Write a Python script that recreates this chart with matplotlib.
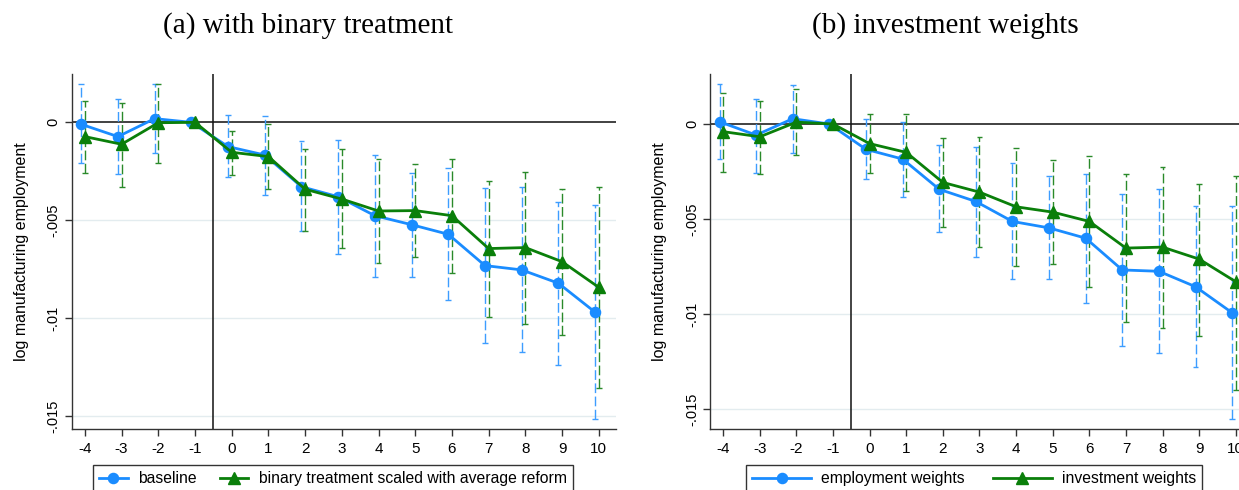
import matplotlib
matplotlib.use('Agg')
import matplotlib.pyplot as plt
import numpy as np

plt.rcParams['font.family'] = ['Liberation Sans', 'DejaVu Sans']

event_time = [-4, -3, -2, -1, 0, 1, 2, 3, 4, 5, 6, 7, 8, 9, 10]

# panel (a)
a_base = [-0.0001, -0.00073, 0.00019, 0.0, -0.00124, -0.00167, -0.00329, -0.0038,
          -0.00477, -0.00523, -0.00572, -0.00732, -0.00754, -0.00822, -0.0097]
a_base_hi = [0.00194, 0.00117, 0.00196, None, 0.00037, 0.00032, -0.00095, -0.00092,
             -0.00165, -0.00257, -0.00232, -0.00337, -0.0033, -0.00405, -0.00424]
a_base_lo = [-0.00209, -0.00266, -0.00157, None, -0.00281, -0.00371, -0.00555, -0.00672,
             -0.00788, -0.00788, -0.00909, -0.01127, -0.01175, -0.01238, -0.01515]
a_bin = [-0.00073, -0.00112, -0.00002, 0.0, -0.00153, -0.00175, -0.00342, -0.00392,
         -0.00453, -0.00451, -0.00477, -0.00645, -0.0064, -0.00712, -0.00843]
a_bin_hi = [0.00111, 0.00099, 0.00196, None, -0.00043, -0.0001, -0.00138, -0.00138,
            -0.00187, -0.00215, -0.00187, -0.00298, -0.00254, -0.00342, -0.00332]
a_bin_lo = [-0.0026, -0.00329, -0.00208, None, -0.00271, -0.00342, -0.00553, -0.00644,
            -0.0072, -0.0069, -0.00771, -0.00996, -0.01028, -0.01086, -0.01359]

# panel (b)
b_emp = [0.00012, -0.00058, 0.00028, 0.0, -0.00133, -0.00184, -0.00343, -0.00407,
         -0.00512, -0.00546, -0.006, -0.00767, -0.00774, -0.00855, -0.00992]
b_emp_hi = [0.0021, 0.0013, 0.00205, None, 0.00025, 0.00012, -0.00112, -0.00119,
            -0.00205, -0.00275, -0.00261, -0.0037, -0.00343, -0.00431, -0.00431]
b_emp_lo = [-0.00186, -0.00259, -0.00154, None, -0.00291, -0.00382, -0.0057, -0.00698,
            -0.00815, -0.00814, -0.00941, -0.01165, -0.01206, -0.01278, -0.01551]
b_inv = [-0.0004, -0.00067, 0.0001, 0.0, -0.00103, -0.00149, -0.00307, -0.00358,
         -0.00435, -0.00463, -0.00512, -0.00652, -0.00647, -0.0071, -0.00829]
b_inv_hi = [0.00161, 0.00123, 0.00186, None, 0.00051, 0.00051, -0.00072, -0.0007,
            -0.00128, -0.00191, -0.0017, -0.00265, -0.00224, -0.00314, -0.00275]
b_inv_lo = [-0.00254, -0.00263, -0.00165, None, -0.00259, -0.0035, -0.00543, -0.00648,
            -0.00745, -0.00736, -0.00859, -0.01041, -0.01071, -0.01116, -0.01399]

yticks = [0, -0.005, -0.01, -0.015]
ytick_labels = ['0', '-.005', '-.01', '-.015']

BLUE = '#1a8cff'
GREEN = '#0a7f0a'


def draw_ci(ax, x, lo, hi, color, shift):
    xs = [xx + shift for xx, l in zip(x, lo) if l is not None]
    los = [l for l in lo if l is not None]
    his = [h for h in hi if h is not None]
    ax.vlines(xs, los, his, colors=color, linewidth=1.0, linestyles=(0, (7, 2.5)), zorder=2)
    ax.hlines(los + his, [v - 0.08 for v in xs] * 2, [v + 0.08 for v in xs] * 2,
              colors=color, linewidth=1.0, zorder=2)


def panel(ax, s1, s1lo, s1hi, s2, s2lo, s2hi, ylim, lab1, lab2, handlelen, colsp, legx):
    x = np.array(event_time, dtype=float)
    for yv in yticks[1:]:
        ax.axhline(yv, color='#e3ecef', linewidth=1.0, zorder=0)
    ax.axhline(0, color='#333333', linewidth=1.3, zorder=1)
    ax.axvline(-0.5, color='#111111', linewidth=1.1, zorder=1)
    draw_ci(ax, x, s1lo, s1hi, '#3d9dff', -0.1)
    draw_ci(ax, x, s2lo, s2hi, '#2a8a2a', 0.0)
    ax.plot(x - 0.1, s1, color=BLUE, linewidth=2.0, marker='o', markersize=7.3, label=lab1, zorder=3)
    ax.plot(x, s2, color=GREEN, linewidth=2.0, marker='^', markersize=8.5, label=lab2, zorder=4)
    ax.set_xlim(-4.36, 10.47)
    ax.set_ylim(*ylim)
    ax.set_xticks(event_time)
    ax.set_xticklabels([str(v) for v in event_time], fontsize=11)
    ax.set_yticks(yticks)
    ax.set_yticklabels(ytick_labels, fontsize=10.5, rotation=90, va='center')
    ax.tick_params(axis='both', direction='out', length=5, width=1, color='#333333')
    ax.tick_params(axis='x', pad=4)
    ax.tick_params(axis='y', pad=3)
    for sp in ['top', 'right']:
        ax.spines[sp].set_visible(False)
    for sp in ['left', 'bottom']:
        ax.spines[sp].set_color('#333333')
        ax.spines[sp].set_linewidth(1.0)
    ax.set_ylabel('log manufacturing employment', fontsize=11.5, labelpad=13)
    leg = ax.legend(loc='upper left', bbox_to_anchor=(legx, 25 / 490),
                    bbox_transform=ax.figure.transFigure, ncol=2, fontsize=11.3,
                    frameon=True, fancybox=False, edgecolor='black', handlelength=handlelen,
                    borderaxespad=0, columnspacing=colsp, handletextpad=0.64,
                    borderpad=0.4)
    leg.get_frame().set_linewidth(1.0)


fig = plt.figure(figsize=(12.39, 4.9), dpi=100)
ax1 = fig.add_axes([71.7 / 1239, 61 / 490, (616 - 71.7) / 1239, 355 / 490])
ax2 = fig.add_axes([710 / 1239, 61 / 490, (1253 - 710) / 1239, 355 / 490])

panel(ax1, a_base, a_base_lo, a_base_hi, a_bin, a_bin_lo, a_bin_hi, (-0.01567, 0.00247),
      'baseline', 'binary treatment scaled with average reform', 1.8, 1.53, 93 / 1239)
panel(ax2, b_emp, b_emp_lo, b_emp_hi, b_inv, b_inv_lo, b_inv_hi, (-0.01603, 0.00263),
      'employment weights', 'investment weights', 3.75, 1.78, 746 / 1239)

fig.text(308 / 1239, 1 - 26 / 490, '(a) with binary treatment', fontsize=21,
         family='Liberation Serif', ha='center', va='center')
fig.text(945 / 1239, 1 - 26 / 490, '(b) investment weights', fontsize=21,
         family='Liberation Serif', ha='center', va='center')

fig.savefig('out.png', dpi=100)
